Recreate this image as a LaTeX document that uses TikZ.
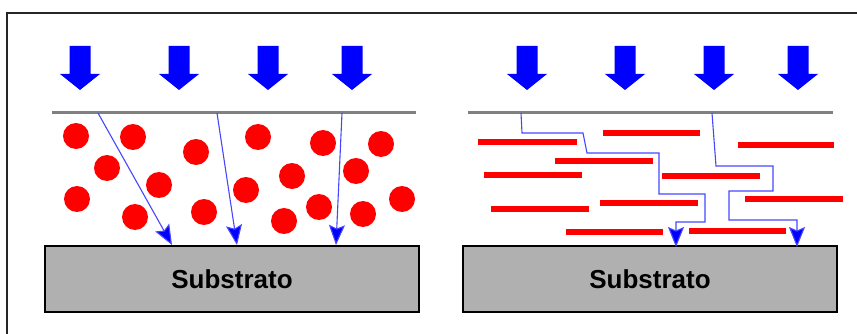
\documentclass[tikz,border=0pt]{standalone}
\usepackage{fontspec}
\setmainfont{Liberation Sans}
\usetikzlibrary{arrows.meta}
\definecolor{subgray}{RGB}{176,176,176}
\definecolor{linegray}{RGB}{128,128,128}
\definecolor{pathblue}{RGB}{70,70,255}
\tikzset{
  pics/blockarrow/.style={code={
    \fill[blue] (-10.5,0) -- (10.5,0) -- (10.5,28) -- (20,28) -- (0,44) -- (-20,28) -- (-10.5,28) -- cycle;}},
  substrate/.style={draw=black, line width=2pt, fill=subgray, minimum width=374pt, minimum height=66pt,
    inner sep=0pt, font=\bfseries\fontsize{26}{30}\selectfont},
  surface/.style={draw=linegray, line width=3pt},
  particle/.style={fill=red, circle, minimum size=26pt, inner sep=0pt},
  platelet/.style={draw=red, line width=6pt},
  flux/.style={draw=pathblue, line width=1.1pt, -{Stealth[length=20pt,width=16pt,inset=3.5pt,fill=blue]}},
}
\begin{document}
\begin{tikzpicture}[x=1pt,y=-1pt]
\useasboundingbox (0,0) rectangle (857,334);
% frame
\draw[line width=2pt, black!85] (7,334) -- (7,13) -- (857,13);

% ---------- left panel ----------
\foreach \x in {80,179,268,352} \pic at (\x,46) {blockarrow};
\draw[surface] (52,113) -- (416,113);
\foreach \p [count=\i] in {(76,136),(133,137),(107,168),(196,152),(159,185),(77,199),(135,217),(204,212),(258,137),(246,190),(292,176),(284,221),(323,143),(319,207),(356,171),(363,214),(381,144),(402,199)}
  \node[particle] (c\i) at \p {};
\node[substrate] (subL) at (232,279) {Substrato};
\coordinate (a1s) at (98,113);  \coordinate (a1e) at (172,245);
\coordinate (a2s) at (217,113); \coordinate (a2e) at (237,245);
\coordinate (a3s) at (342,113); \coordinate (a3e) at (336,245);
\draw[flux] (a1s) -- (a1e);
\draw[flux] (a2s) -- (a2e);
\draw[flux] (a3s) -- (a3e);

% ---------- right panel ----------
\foreach \x in {527,625,714,798} \pic at (\x,46) {blockarrow};
\draw[surface] (468,113) -- (833,113);
\draw[platelet] (478,142) -- (577,142);
\draw[platelet] (603,133) -- (700,133);
\draw[platelet] (738,145) -- (834,145);
\draw[platelet] (555,161) -- (653,161);
\draw[platelet] (484,175) -- (582,175);
\draw[platelet] (662,176) -- (760,176);
\draw[platelet] (491,209) -- (589,209);
\draw[platelet] (600,203) -- (698,203);
\draw[platelet] (745,199) -- (843,199);
\draw[platelet] (566,232) -- (663,232);
\draw[platelet] (689,231) -- (786,231);
\node[substrate] (subR) at (650,279) {Substrato};
\coordinate (b1s) at (521,113); \coordinate (b1e) at (676,247);
\coordinate (b2s) at (712,113); \coordinate (b2e) at (797,247);
\draw[flux] (b1s) -- (522,133) -- (583,133) -- (587,153) -- (659,153) -- (659,194)
  -- (705,194) -- (705,222) -- (676,222) -- (b1e);
\draw[flux] (b2s) -- (716,166) -- (773,166) -- (773,191) -- (729,191) -- (729,220)
  -- (797,220) -- (b2e);
\end{tikzpicture}
\end{document}
